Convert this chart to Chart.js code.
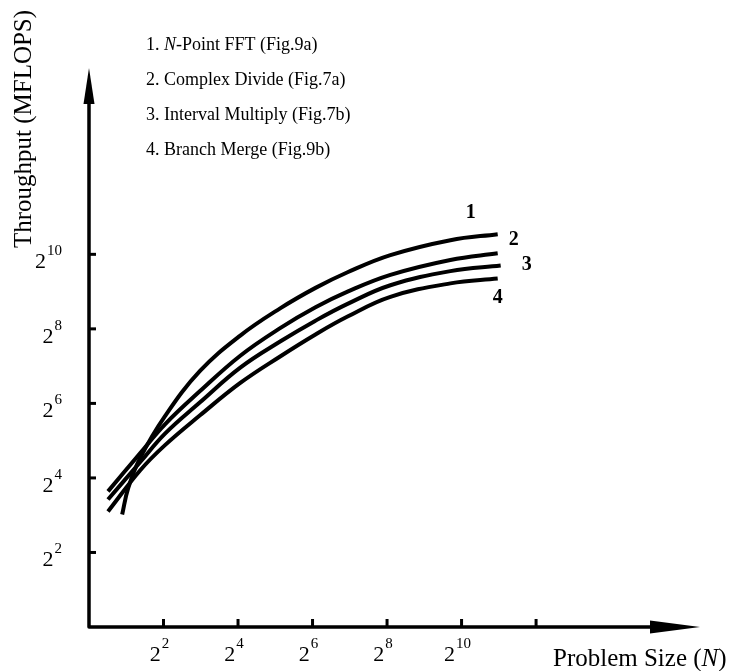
<!DOCTYPE html>
<html lang="en">
<head>
<meta charset="UTF-8">
<title>Throughput vs Problem Size</title>
<script src="https://cdn.jsdelivr.net/npm/chart.js"></script>
<style>
    html, body { margin: 0; padding: 0; background: #fff; }
    #wrap { width: 740px; height: 671px; }
</style>
</head>
<body>
<div id="wrap"><canvas id="myChart" width="740" height="671"></canvas></div>
<script>
// all values are log2 : x = log2(N), y = log2(MFLOPS)
const seriesNames = ['N-Point FFT (Fig.9a)', 'Complex Divide (Fig.7a)', 'Interval Multiply (Fig.7b)', 'Branch Merge (Fig.9b)'];
const seriesTags = ['1', '2', '3', '4'];

const fftX = [0.89, 1.05, 1.37, 2.04, 2.98, 4.06, 5.13, 6.08, 6.94, 8.09, 9.70, 10.97];
const fftY = [3.02, 3.72, 4.53, 5.66, 6.87, 7.82, 8.55, 9.10, 9.52, 9.98, 10.38, 10.54];

const divX = [0.51, 1.37, 2.04, 2.98, 4.06, 5.13, 6.08, 6.94, 8.09, 9.70, 10.97];
const divY = [3.64, 4.66, 5.44, 6.33, 7.28, 8.02, 8.58, 9.00, 9.45, 9.85, 10.03];

const mulX = [0.51, 1.37, 2.04, 2.98, 4.06, 5.13, 6.08, 6.94, 8.09, 9.70, 11.05];
const mulY = [3.42, 4.42, 5.19, 6.03, 6.96, 7.66, 8.22, 8.67, 9.17, 9.55, 9.70];

const mrgX = [0.51, 1.37, 2.04, 2.98, 4.06, 5.13, 6.08, 6.94, 8.09, 9.70, 10.97];
const mrgY = [3.10, 4.20, 4.88, 5.68, 6.55, 7.26, 7.85, 8.33, 8.86, 9.22, 9.35];

// tick marks (exponents of 2); the last x tick has no label
const xTickExps = [2, 4, 6, 8, 10, 12];
const xTickLabels = ['2', '4', '6', '8', '10', ''];
const yTickExps = [2, 4, 6, 8, 10];
const yTickLabels = ['2', '4', '6', '8', '10'];

const xMaxExp = 16.4;
const yMaxExp = 15;

// where the curve numbers sit, relative to each curve's last point
const tagOffsets = [[-27, -21], [16, -13], [26, -1], [0, 19]];

const serif = '"Liberation Serif", "Times New Roman", serif';

function pts(xs, ys) {
    return xs.map((v, i) => ({ x: v, y: ys[i] }));
}

function drawRich(ctx, parts, x, y, size) {
    // parts: [text, italic]
    let cx = x;
    parts.forEach(([t, it]) => {
        ctx.font = (it ? 'italic ' : '') + size + 'px ' + serif;
        ctx.fillText(t, cx, y);
        cx += ctx.measureText(t).width;
    });
}

function splitItalicN(s) {
    if (s.startsWith('N-')) return [['N', true], [s.slice(1), false]];
    return [[s, false]];
}

function powerLabel(ctx, exp) {
    ctx.font = '22px ' + serif;
    const wb = ctx.measureText('2').width;
    ctx.font = '15px ' + serif;
    const we = ctx.measureText(exp).width;
    return { wb, we, w: wb + we + 1 };
}

function drawPower(ctx, exp, left, baseLine) {
    const m = powerLabel(ctx, exp);
    ctx.font = '22px ' + serif;
    ctx.fillText('2', left, baseLine);
    ctx.font = '15px ' + serif;
    ctx.fillText(exp, left + m.wb + 1, baseLine - 13);
}

const paperAxes = {
    id: 'paperAxes',
    afterDatasetsDraw(chart) {
        const { ctx, scales: { x, y } } = chart;
        const x0 = x.getPixelForValue(0);
        const y0 = y.getPixelForValue(0);
        const xTip = x.getPixelForValue(xMaxExp);
        const yTip = y.getPixelForValue(yMaxExp);

        ctx.save();
        ctx.strokeStyle = '#000';
        ctx.fillStyle = '#000';
        ctx.lineWidth = 3.5;
        ctx.lineCap = 'round';

        // axis lines
        ctx.beginPath();
        ctx.moveTo(x0, y0);
        ctx.lineTo(xTip - 30, y0);
        ctx.moveTo(x0, y0);
        ctx.lineTo(x0, yTip + 25);
        ctx.stroke();

        // arrow heads
        ctx.beginPath();
        ctx.moveTo(xTip, y0);
        ctx.lineTo(xTip - 50, y0 - 6.5);
        ctx.lineTo(xTip - 50, y0 + 6.5);
        ctx.closePath();
        ctx.fill();

        ctx.beginPath();
        ctx.moveTo(x0, yTip);
        ctx.lineTo(x0 - 5.5, yTip + 36);
        ctx.lineTo(x0 + 5.5, yTip + 36);
        ctx.closePath();
        ctx.fill();

        // tick bumps
        ctx.lineWidth = 3;
        ctx.lineCap = 'butt';
        xTickExps.forEach(v => {
            const px = x.getPixelForValue(v);
            ctx.beginPath();
            ctx.moveTo(px, y0 - 8);
            ctx.lineTo(px, y0 + 1);
            ctx.stroke();
        });
        yTickExps.forEach(v => {
            const py = y.getPixelForValue(v);
            ctx.beginPath();
            ctx.moveTo(x0 - 1, py);
            ctx.lineTo(x0 + 7, py);
            ctx.stroke();
        });

        // tick labels 2^n
        ctx.textBaseline = 'alphabetic';
        ctx.textAlign = 'left';
        xTickExps.forEach((v, i) => {
            if (!xTickLabels[i]) return;
            const px = x.getPixelForValue(v);
            const m = powerLabel(ctx, xTickLabels[i]);
            drawPower(ctx, xTickLabels[i], px - m.w / 2 - 4, y0 + 34);
        });
        yTickExps.forEach((v, i) => {
            const py = y.getPixelForValue(v);
            const m = powerLabel(ctx, yTickLabels[i]);
            drawPower(ctx, yTickLabels[i], x0 - 27 - m.w, py + 14);
        });

        // curve numbers
        ctx.font = 'bold 20px ' + serif;
        ctx.textAlign = 'center';
        ctx.textBaseline = 'middle';
        chart.data.datasets.forEach((ds, i) => {
            const last = ds.data[ds.data.length - 1];
            const px = x.getPixelForValue(last.x) + tagOffsets[i][0];
            const py = y.getPixelForValue(last.y) + tagOffsets[i][1];
            ctx.fillText(seriesTags[i], px, py);
        });

        // key at the top
        ctx.textAlign = 'left';
        ctx.textBaseline = 'middle';
        seriesNames.forEach((name, i) => {
            const ty = 45 + i * 35;
            drawRich(ctx, [[seriesTags[i] + '. ', false]].concat(splitItalicN(name)), 146, ty, 18);
        });

        // axis titles
        ctx.textBaseline = 'alphabetic';
        drawRich(ctx, [['Problem Size (', false], ['N', true], [')', false]], 553, 666, 25);

        ctx.translate(31, 129);
        ctx.rotate(-Math.PI / 2);
        ctx.textAlign = 'center';
        ctx.font = '25px ' + serif;
        ctx.fillText('Throughput (MFLOPS)', 0, 0);
        ctx.restore();
    }
};

const ctx = document.getElementById('myChart').getContext('2d');
const lineData = [[fftX, fftY], [divX, divY], [mulX, mulY], [mrgX, mrgY]];

window.myChart = new Chart(ctx, {
    type: 'line',
    data: {
        datasets: lineData.map(([xs, ys], i) => ({
            label: seriesNames[i],
            data: pts(xs, ys),
            borderColor: '#000',
            borderWidth: 4,
            pointRadius: 0,
            fill: false,
            tension: 0.4
        }))
    },
    options: {
        responsive: false,
        animation: false,
        layout: { padding: { left: 89, right: 40, top: 68, bottom: 44 } },
        plugins: {
            legend: { display: false },
            tooltip: { enabled: false }
        },
        scales: {
            x: { type: 'linear', display: false, min: 0, max: xMaxExp },
            y: { type: 'linear', display: false, min: 0, max: yMaxExp }
        }
    },
    plugins: [paperAxes]
});
</script>
</body>
</html>
